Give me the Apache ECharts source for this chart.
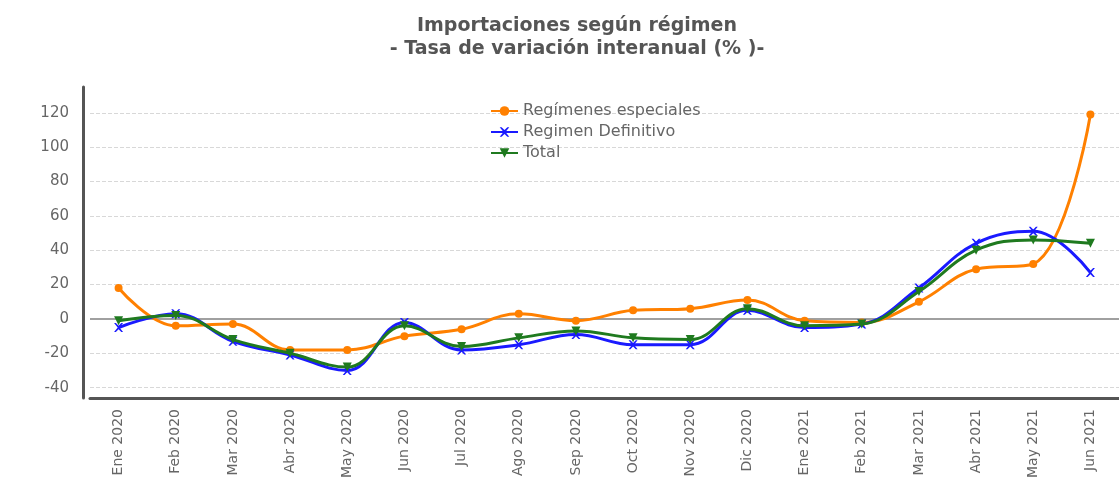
<!DOCTYPE html>
<html style="height: 100%">
<head>
    <meta charset="utf-8">
    <title>Importaciones según régimen</title>
    <script src="https://cdn.jsdelivr.net/npm/echarts@6/dist/echarts.min.js"></script>
</head>
<body style="height: 100%; margin: 0; background: #fff">
<div id="main" style="width: 1119px; height: 484px"></div>

<script type="text/javascript">
    // meses
    var meses = ['Ene 2020', 'Feb 2020', 'Mar 2020', 'Abr 2020', 'May 2020', 'Jun 2020',
        'Jul 2020', 'Ago 2020', 'Sep 2020', 'Oct 2020', 'Nov 2020', 'Dic 2020',
        'Ene 2021', 'Feb 2021', 'Mar 2021', 'Abr 2021', 'May 2021', 'Jun 2021'];

    // tasa de variación interanual (%)
    var especiales = [18, -4, -3, -18, -18, -10, -6, 3, -1, 5, 6, 11, -1, -2, 10, 29, 32, 119];
    var definitivo = [-5, 3, -13, -21, -30, -2, -18, -15, -9, -15, -15, 5, -5, -3, 18, 44, 51, 27];
    var total = [-1, 2, -12, -20, -28, -4, -16, -11, -7, -11, -12, 6, -4, -3, 16, 40, 46, 44];

    var cruz = 'path://M0,0 L2,0 L5,3 L8,0 L10,0 L6,5 L10,10 L8,10 L5,7 L2,10 L0,10 L4,5 Z';

    var myChart = echarts.init(document.getElementById('main'));

    var option = {
        backgroundColor: '#fff',
        animation: false,
        title: {
            text: 'Importaciones según régimen\n- Tasa de variación interanual (% )-',
            left: 572,
            textAlign: 'center',
            top: 10,
            textStyle: {
                fontFamily: 'DejaVu Sans',
                fontSize: 19,
                fontWeight: 'bold',
                color: '#555',
                lineHeight: 23
            }
        },
        legend: {
            orient: 'vertical',
            left: 485,
            top: 98,
            itemGap: 5,
            itemWidth: 27,
            itemHeight: 12,
            textStyle: {fontFamily: 'DejaVu Sans', fontSize: 16, color: '#666'},
            data: ['Regímenes especiales', 'Regimen Definitivo', 'Total']
        },
        grid: {left: 90, right: -5, top: 87, bottom: 86},
        xAxis: {
            type: 'category',
            data: meses,
            boundaryGap: true,
            axisLine: {onZero: false, lineStyle: {color: '#555', width: 3}},
            axisTick: {show: false},
            axisLabel: {
                rotate: 90,
                margin: 11,
                fontFamily: 'DejaVu Sans',
                fontSize: 14,
                color: '#666'
            }
        },
        yAxis: {
            type: 'value',
            min: -46,
            max: 135,
            splitNumber: 9,
            offset: 7,
            axisLine: {show: true, lineStyle: {color: '#555', width: 3}},
            axisTick: {show: false},
            axisLabel: {
                showMinLabel: false,
                showMaxLabel: false,
                margin: 14,
                fontFamily: 'DejaVu Sans',
                fontSize: 15,
                color: '#666'
            },
            splitLine: {
                showMinLine: false,
                showMaxLine: false,
                lineStyle: {type: 'dashed', color: '#d8d8d8', width: 1}
            }
        },
        series: [
            {
                name: 'Regímenes especiales',
                type: 'line',
                data: especiales,
                smooth: 0.4,
                symbol: 'circle',
                symbolSize: 8,
                itemStyle: {color: '#ff8000'},
                lineStyle: {width: 3, color: '#ff8000'},
                z: 3,
                markLine: {
                    silent: true,
                    symbol: 'none',
                    label: {show: false},
                    lineStyle: {color: '#a0a0a0', width: 2, type: 'solid'},
                    data: [{yAxis: 0}],
                    z: 1
                }
            },
            {
                name: 'Regimen Definitivo',
                type: 'line',
                data: definitivo,
                smooth: 0.4,
                symbol: cruz,
                symbolSize: 9,
                itemStyle: {color: '#1a1aff'},
                lineStyle: {width: 3, color: '#1a1aff'},
                z: 4
            },
            {
                name: 'Total',
                type: 'line',
                data: total,
                smooth: 0.4,
                symbol: 'triangle',
                symbolRotate: 180,
                symbolSize: 9,
                itemStyle: {color: '#1f7a1f'},
                lineStyle: {width: 3, color: '#1f7a1f'},
                z: 5
            }
        ]
    };
    myChart.setOption(option, true);
</script>
</body>
</html>
